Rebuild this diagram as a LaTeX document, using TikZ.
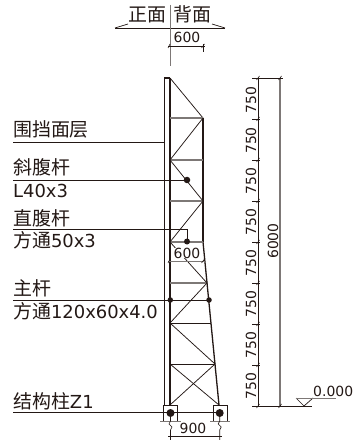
\documentclass[tikz,border=0pt]{standalone}
\usepackage{fontspec}
\setmainfont{DejaVu Sans}
\newfontfamily\cjkface{Noto Sans CJK SC}
\newcommand\zh[1]{{\fontsize{19}{19}\selectfont\cjkface #1}}
\definecolor{ink}{HTML}{231815}
\definecolor{greyline}{HTML}{7D7876}
\tikzset{
  lab/.style={anchor=base west,inner sep=0pt,text=ink,font=\fontsize{18}{18}\selectfont},
  dimt/.style={inner sep=0pt,text=ink,font=\fontsize{14}{14}\selectfont},
  thin line/.style={draw=ink,line width=.7pt},
  heavy/.style={draw=ink,line width=1.3pt},
  soft/.style={draw=greyline,line width=1.1pt},
  web/.style={draw=ink,line width=.75pt},
  dot/.style={circle,fill=ink,draw=none,inner sep=0pt,minimum size=#1},
  tick/.style={draw=ink,line width=.6pt}
}
\begin{document}
\begin{tikzpicture}[x=1bp,y=-1bp]
\path[use as bounding box,fill=white] (0,0) rectangle (353,440);
% ---- top section mark
\draw[thin line] (115,28) -- (225,28);
\draw[thin line] (115,28) -- (128,24);
\draw[thin line] (212,24) -- (225,28);
\draw[soft,line width=.8pt] (170,5) -- (170,66);
\node[lab,anchor=base] at (147.5,21.5) {\zh{正面}};
\node[lab,anchor=base] at (192.5,21.5) {\zh{背面}};
\draw[thin line] (168,46) -- (205,46);
\draw[thin line] (203,44) -- (203,52);
\draw[tick] (168,48) -- (170,44) (201.5,48) -- (204.5,44);
\node[dimt,anchor=base] at (187,42.5) {600};
% ---- panel
\draw[heavy] (164.5,405) -- (164.5,78) -- (170,78);
\draw[heavy] (170,78) -- (170,405);
% ---- chords
\draw[heavy] (203,118) -- (203,242);
\draw[heavy] (203,242) -- (219,405);
\draw[web] (170,78) -- (203,118);
% ---- horizontals
\draw[soft] (170,118) -- (203,118);
\draw[soft] (170,160) -- (203,160);
\draw[soft] (170,201) -- (203,201);
\draw[soft] (170,242) -- (203,242);
\draw[soft] (170,283) -- (207,283);
\draw[web] (170,323) -- (211,323);
\draw[web] (170,364) -- (215,364);
% ---- diagonals
\draw[web] (203,118) -- (170,160) -- (203,201) -- (170,242) -- (207,283) -- (170,323) -- (215,364) -- (170,405);
\draw[web] (170,364) -- (219,405);
% ---- dimension 600 in the truss
\draw[soft,line width=.8pt] (168,261) -- (205,261);
\draw[tick] (168,263) -- (170,259) (201.5,263) -- (204.5,259);
\node[dimt,anchor=base,fill=white,inner xsep=0.5pt] at (187,258) {600};
% ---- leaders
\draw[thin line,line width=.9pt] (13,142) -- (164,142);
\draw[thin line,line width=.9pt] (13,180) -- (187,180);
\draw[thin line,line width=.9pt] (13,229) -- (187,229) -- (187,241);
\draw[thin line,line width=.9pt] (13,300) -- (209,300);
\draw[thin line,line width=.9pt] (13,412) -- (219.5,412);
\node[dot=6.5bp] (d1) at (187,180) {};
\node[dot=6bp] (d2) at (187,241.5) {};
\node[dot=5.5bp] (d3) at (170.3,300) {};
\node[dot=5.5bp] (d4) at (209,300) {};
% ---- labels
\node[lab] at (13,137) {\zh{围挡面层}};
\node[lab] at (13,175) {\zh{斜腹杆}};
\node[lab] at (13,198) {L40x3};
\node[lab] at (13,225) {\zh{直腹杆}};
\node[lab] at (13,247) {\zh{方通}50x3};
\node[lab] at (13,295) {\zh{主杆}};
\node[lab] at (13,318) {\zh{方通}120x60x4.0};
\node[lab] at (13,408) {\zh{结构柱}Z1};
% ---- bases
\draw[thin line] (163.5,421) -- (163.5,405.5) -- (177.5,405.5) -- (177.5,421);
\draw[thin line] (213,421) -- (213,405.5) -- (227,405.5) -- (227,421);
\draw[soft,line width=.8pt] (160,421.5) -- (181,421.5);
\draw[soft,line width=.8pt] (210,421.5) -- (230,421.5);
\node[dot=8bp] (c1) at (170.5,413) {};
\node[dot=8bp] (c2) at (219.7,413) {};
\draw[tick] (c1) -- (170.5,421) -- (169,424) -- (172,427) -- (170.5,430) -- (170.5,440);
\draw[tick] (c2) -- (219.7,421) -- (218.2,424) -- (221.2,427) -- (219.7,430) -- (219.7,440);
\draw[thin line] (168,436.5) -- (222,436.5);
\node[dimt,anchor=base,fill=white,inner xsep=0.5pt] at (193,433) {900};
% ---- right dimensions
\draw[thin line,line width=.9pt] (258,78) -- (258,406);
\draw[soft] (280,78) -- (280,406);
\draw[thin line] (256,78) -- (283,78);
\draw[thin line] (252,406) -- (312,406);
\foreach \yy in {78,119,160,201,242,283,324,365,406}{
  \draw[thin line] (252,\yy) -- (260,\yy);
  \draw[tick] (256.5,\yy+2) -- (259.5,\yy-2);
}
\draw[tick] (278.5,80) -- (281.5,76) (278.5,408) -- (281.5,404);
\foreach \yy in {100,140.5,181,222,263,304,345,386}{
  \node[dimt,rotate=90,anchor=base] at (256,\yy) {750};
}
\node[dimt,rotate=90,anchor=base] at (278,241) {6000};
% ---- level mark
\draw[thin line] (296,398) -- (304,406) -- (313,398);
\draw[soft,line width=.8pt] (296,398) -- (336,398);
\node[dimt,anchor=base west] at (313,396.5) {0.000};
\end{tikzpicture}
\end{document}
